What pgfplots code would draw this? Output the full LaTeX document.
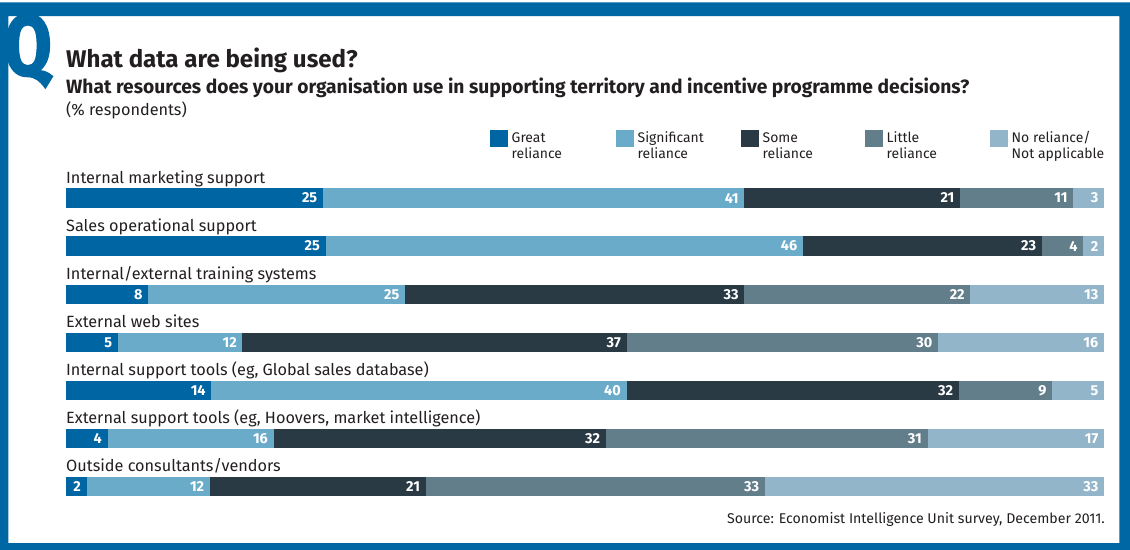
\documentclass[border=0pt]{standalone}
\usepackage{fontspec}
\setmainfont{Fira Sans}
\newfontfamily\qfont{Fira Sans}[BoldFeatures={FakeBold=2.5}]
\usepackage{pgfplots}
\pgfplotsset{compat=1.18}

\definecolor{frameblue}{HTML}{0067A5}
\definecolor{cgreat}{HTML}{0066A3}
\definecolor{csig}{HTML}{6AABCA}
\definecolor{csome}{HTML}{293A44}
\definecolor{clittle}{HTML}{637E8B}
\definecolor{cnone}{HTML}{93B5CA}
\definecolor{textdark}{HTML}{231F20}

\newcommand\titlefont{\bfseries\fontsize{24.2}{28}\selectfont}
\newcommand\subtitlefont{\bfseries\fontsize{19.3}{22}\selectfont}
\newcommand\catfont{\fontsize{16.3}{19}\selectfont}
\newcommand\legfont{\fontsize{14}{17}\selectfont}
\newcommand\valfont{\bfseries\fontsize{14.5}{14.5}\selectfont}
\newcommand\srcfont{\fontsize{14.2}{17}\selectfont}

\pgfplotsset{
  rowaxis/.style={
    anchor=north west, scale only axis,
    width=1038bp, height=19.4bp,
    xmin=0, ymin=-0.5, ymax=0.5, enlargelimits=false,
    hide axis, clip=false,
    xbar stacked, bar width=19.4bp,
    point meta=explicit symbolic,
    visualization depends on={rawx \as \segval},
    nodes near coords,
    every node near coord/.append style={anchor=east, text=white,
      font=\valfont, inner sep=0pt},
  },
}

% one stacked bar: top edge (bp), caption, five shares, row total;
% each value sits at the right end of its own segment
\newcommand{\reliancerow}[8]{%
  \node[anchor=base west, inner sep=0pt, text=textdark, font=\catfont]
    at (66bp,{-(#1-5)*1bp}) {#2};
  \begin{axis}[rowaxis, at={(66bp,-#1bp)}, xmax=#8,
      every node near coord/.append style={xshift={(\segval/#8*519-5.5)*1bp}}]
    \addplot[draw=none, fill=cgreat]  coordinates {(#3,0) [#3]};
    \addplot[draw=none, fill=csig]    coordinates {(#4,0) [#4]};
    \addplot[draw=none, fill=csome]   coordinates {(#5,0) [#5]};
    \addplot[draw=none, fill=clittle] coordinates {(#6,0) [#6]};
    \addplot[draw=none, fill=cnone]   coordinates {(#7,0) [#7]};
  \end{axis}}

\begin{document}
\begin{tikzpicture}
\useasboundingbox (0,0) rectangle (1130bp,-550bp);
\begin{scope}[x=1bp,y=1bp]
  \fill[white] (0,0) rectangle (1130,-550);
  \fill[frameblue, even odd rule] (0,-2.5) rectangle (1130,-550)
    (8.3,-16) rectangle (1119.3,-543);
  \node[anchor=base west, inner sep=0pt, text=frameblue, xscale=0.8,
    font=\qfont\bfseries\fontsize{86}{86}\selectfont] at (4,-75) {Q};

  \node[anchor=base west, inner sep=0pt, text=textdark, font=\titlefont]
    at (66,-67) {What data are being used?};
  \node[anchor=base west, inner sep=0pt, text=textdark, font=\subtitlefont]
    at (66,-93) {What resources does your organisation use in supporting territory and incentive programme decisions?};
  \node[anchor=base west, inner sep=0pt, text=textdark, font=\catfont]
    at (66,-115) {(\% respondents)};

  % legend
  \foreach \sx/\col/\la/\lb in {490/cgreat/Great/reliance,
      616/csig/Significant/reliance, 741/csome/Some/reliance,
      865/clittle/Little/reliance, 990/cnone/No reliance\slash/Not applicable}{
    \fill[\col] (\sx,-129.5) rectangle ++(17.5,-17);
    \node[anchor=base west, inner sep=0pt, text=textdark, font=\legfont]
      at (\sx+21.5,-142) {\la};
    \node[anchor=base west, inner sep=0pt, text=textdark, font=\legfont]
      at (\sx+21.5,-158.5) {\lb};
  }

  \node[anchor=base east, inner sep=0pt, text=textdark, font=\srcfont]
    at (1105,-523) {Source: Economist Intelligence Unit survey, December 2011.};
\end{scope}

\reliancerow{188.3}{Internal marketing support}{25}{41}{21}{11}{3}{101}
\reliancerow{236.4}{Sales operational support}{25}{46}{23}{4}{2}{100}
\reliancerow{284.5}{Internal/external training systems}{8}{25}{33}{22}{13}{101}
\reliancerow{332.6}{External web sites}{5}{12}{37}{30}{16}{100}
\reliancerow{380.7}{Internal support tools (eg, Global sales database)}{14}{40}{32}{9}{5}{100}
\reliancerow{428.8}{External support tools (eg, Hoovers, market intelligence)}{4}{16}{32}{31}{17}{100}
\reliancerow{476.9}{Outside consultants/vendors}{2}{12}{21}{33}{33}{101}
\end{tikzpicture}
\end{document}
